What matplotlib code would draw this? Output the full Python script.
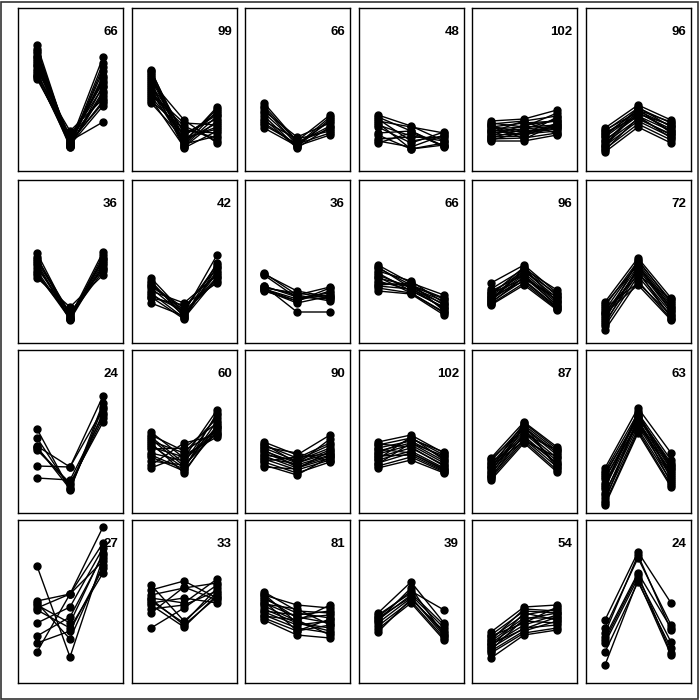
import matplotlib.pyplot as plt
from matplotlib.patches import Rectangle

plt.rcParams['font.family'] = ['Liberation Sans', 'DejaVu Sans']

# cluster sizes shown in the top right corner of each panel (row by row)
counts = [66, 99, 66, 48, 102, 96,
          36, 42, 36, 66, 96, 72,
          24, 60, 90, 102, 87, 63,
          27, 33, 81, 39, 54, 24]

# profiles per panel: values at the three time points
p00 = [(126, 26, 100), (120, 28, 114), (115, 25, 108), (110, 27, 95), (105, 30, 90),
       (100, 24, 85), (95, 26, 80), (92, 32, 75), (108, 28, 70), (112, 26, 65),
       (98, 30, 49), (118, 24, 104), (102, 35, 88), (96, 40, 72), (122, 27, 93),
       (106, 25, 78), (94, 29, 68), (114, 33, 84)]
p01 = [(101, 28, 64), (96, 25, 55), (92, 30, 48), (88, 23, 40), (84, 35, 58),
       (80, 27, 35), (76, 45, 30), (72, 24, 50), (68, 32, 44), (90, 51, 28),
       (98, 26, 60), (86, 40, 38), (94, 38, 52), (82, 30, 62), (78, 48, 46),
       (74, 36, 56), (70, 42, 33), (100, 33, 42)]
p02 = [(68, 30, 56), (63, 26, 50), (58, 28, 45), (55, 24, 52), (50, 32, 40),
       (46, 27, 38), (43, 25, 36), (60, 34, 48), (52, 23, 44), (65, 29, 42),
       (48, 26, 54)]
p03 = [(56, 45, 30), (54, 40, 25), (52, 30, 35), (50, 44, 38), (48, 22, 26),
       (46, 35, 30), (44, 28, 39), (38, 40, 24), (36, 22, 28), (32, 34, 33),
       (30, 24, 36), (28, 38, 25)]
p04 = [(50, 52, 61), (47, 50, 55), (44, 48, 50), (42, 44, 46), (40, 42, 52),
       (38, 40, 44), (36, 37, 40), (34, 35, 48), (32, 33, 38), (30, 30, 36),
       (45, 38, 42), (35, 46, 50), (48, 44, 58), (41, 36, 54), (33, 42, 45),
       (39, 50, 37), (46, 32, 47), (31, 39, 43)]
p05 = [(43, 66, 51), (40, 63, 48), (37, 60, 45), (34, 58, 42), (31, 55, 40),
       (28, 52, 37), (25, 50, 34), (22, 47, 31), (19, 44, 28), (35, 62, 38),
       (30, 57, 46), (41, 59, 40), (26, 64, 44), (21, 53, 36), (38, 55, 33),
       (24, 61, 49)]

p10 = [(90, 26, 91), (86, 24, 85), (82, 28, 82), (78, 23, 78), (75, 30, 75),
       (72, 25, 80), (68, 27, 72), (65, 36, 68), (80, 24, 88), (84, 30, 74),
       (70, 24, 84)]
p11 = [(65, 30, 88), (62, 26, 80), (58, 35, 75), (55, 28, 72), (52, 40, 68),
       (50, 25, 65), (48, 32, 62), (45, 38, 60), (40, 27, 70), (57, 33, 78),
       (60, 29, 66), (46, 24, 76)]
p12 = [(70, 48, 56), (68, 45, 50), (55, 50, 45), (54, 44, 48), (52, 42, 52),
       (57, 46, 44), (53, 40, 47), (57, 31, 31), (69, 52, 46), (56, 48, 42),
       (54, 42, 55)]
p13 = [(78, 60, 48), (75, 58, 45), (72, 62, 40), (68, 55, 42), (65, 57, 38),
       (62, 53, 35), (58, 60, 32), (55, 50, 30), (52, 49, 28), (70, 52, 36),
       (76, 55, 34), (60, 57, 44), (66, 50, 31), (57, 54, 39)]
p14 = [(60, 78, 50), (54, 74, 53), (50, 72, 45), (47, 70, 42), (45, 68, 40),
       (43, 66, 38), (41, 63, 36), (39, 60, 34), (38, 58, 33), (48, 76, 47),
       (52, 68, 37), (44, 72, 49), (40, 66, 43), (46, 62, 35), (42, 75, 41),
       (50, 64, 46)]
p15 = [(41, 85, 45), (37, 82, 42), (33, 80, 38), (29, 77, 35), (25, 74, 32),
       (21, 70, 30), (17, 67, 27), (13, 62, 24), (30, 58, 23), (35, 60, 28),
       (39, 78, 36), (23, 83, 40), (27, 72, 25), (19, 76, 33), (31, 68, 44)]

p20 = [(84, 23, 106), (75, 25, 100), (67, 46, 117), (65, 28, 95), (63, 30, 91),
       (47, 46, 104), (35, 33, 98), (66, 24, 110)]
p21 = [(81, 55, 103), (76, 50, 98), (72, 60, 95), (68, 45, 92), (64, 65, 90),
       (60, 52, 86), (56, 42, 84), (52, 48, 80), (48, 70, 78), (45, 58, 76),
       (70, 40, 88), (78, 62, 82), (58, 44, 100), (66, 56, 79), (74, 47, 86)]
p22 = [(71, 58, 78), (68, 55, 70), (65, 52, 65), (62, 50, 60), (60, 48, 58),
       (57, 45, 55), (54, 43, 53), (51, 40, 51), (48, 38, 56), (46, 44, 62),
       (66, 60, 52), (69, 50, 63), (58, 53, 68), (63, 46, 57), (52, 56, 59),
       (55, 49, 74)]
p23 = [(71, 78, 60), (68, 75, 58), (65, 72, 55), (62, 70, 52), (59, 68, 50),
       (56, 65, 48), (53, 62, 45), (50, 60, 43), (47, 56, 41), (45, 53, 40),
       (60, 74, 61), (69, 66, 47), (54, 76, 53), (64, 60, 44), (49, 70, 57),
       (57, 58, 42)]
p24 = [(55, 91, 66), (52, 88, 62), (49, 85, 58), (46, 82, 55), (43, 80, 52),
       (40, 77, 49), (37, 74, 46), (35, 72, 43), (33, 70, 41), (45, 90, 64),
       (50, 75, 50), (54, 84, 48), (38, 86, 60), (47, 72, 56), (41, 88, 45),
       (36, 79, 63)]
p25 = [(45, 105, 60), (42, 100, 53), (38, 97, 50), (34, 95, 47), (30, 92, 44),
       (26, 90, 40), (20, 87, 36), (15, 84, 32), (10, 82, 28), (8, 80, 26),
       (24, 102, 34), (40, 94, 30), (36, 88, 42), (28, 98, 48), (18, 92, 38),
       (12, 96, 45)]

p30 = [(117, 26, 125), (82, 89, 140), (80, 44, 118), (78, 60, 130), (75, 89, 156),
       (73, 55, 110), (60, 76, 135), (47, 66, 128), (40, 52, 115), (31, 89, 122)]
p31 = [(98, 62, 90), (93, 102, 85), (88, 95, 100), (85, 80, 104), (82, 60, 95),
       (80, 85, 80), (78, 56, 88), (74, 78, 92), (70, 96, 83), (55, 75, 98),
       (84, 58, 86)]
p32 = [(91, 72, 70), (88, 78, 75), (84, 70, 65), (80, 66, 60), (77, 62, 78),
       (74, 60, 55), (71, 58, 62), (68, 55, 50), (65, 52, 58), (63, 48, 45),
       (86, 65, 68), (89, 60, 52), (79, 74, 58), (72, 68, 72), (67, 63, 48),
       (82, 52, 64)]
p33 = [(70, 101, 60), (66, 92, 73), (63, 88, 55), (60, 85, 50), (57, 82, 45),
       (54, 80, 43), (51, 84, 52), (68, 90, 58), (62, 95, 48), (65, 86, 47)]
p34 = [(51, 76, 78), (48, 72, 70), (45, 68, 74), (42, 65, 65), (40, 62, 60),
       (38, 58, 68), (35, 55, 58), (32, 52, 62), (30, 50, 55), (25, 48, 53),
       (43, 74, 72), (47, 60, 76), (36, 70, 63), (33, 64, 70), (39, 54, 66)]
p35 = [(63, 131, 80), (55, 125, 58), (46, 110, 55), (40, 105, 41), (31, 101, 35),
       (18, 103, 28), (50, 128, 53), (43, 108, 30)]

panels = [p00, p01, p02, p03, p04, p05,
          p10, p11, p12, p13, p14, p15,
          p20, p21, p22, p23, p24, p25,
          p30, p31, p32, p33, p34, p35]

timepoints = [0, 1, 2]

fig = plt.figure(figsize=(7, 7), dpi=100)
fig.patches.append(Rectangle((0.002, 0.002), 0.995, 0.995, transform=fig.transFigure,
                             fill=False, edgecolor='#333333', linewidth=1.2))

col_left = [18, 132, 245, 359, 472, 586]
row_top = [8, 180, 350, 520]
pw, ph = 105, 163

for i, lines in enumerate(panels):
    r, c = divmod(i, 6)
    ax = fig.add_axes([col_left[c] / 700, 1 - (row_top[r] + ph) / 700, pw / 700, ph / 700])
    for prof in lines:
        ax.plot(timepoints, prof, 'k-o', lw=1.0, markersize=5)
    ax.set_xlim(-0.576, 2.606)
    ax.set_ylim(0, 163)
    ax.set_xticks([])
    ax.set_yticks([])
    for s in ax.spines.values():
        s.set_linewidth(1)
    ax.text(1 - 5 / pw, 1 - 24 / ph, str(counts[i]), transform=ax.transAxes,
            ha='right', va='center', fontsize=9.5, fontweight='bold')

plt.savefig('out.png', dpi=100)
